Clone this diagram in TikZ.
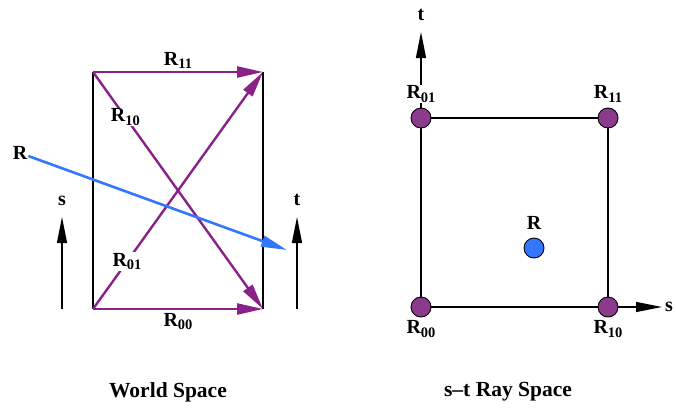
\documentclass[tikz,border=0pt]{standalone}
\usepackage{fontspec}
\setmainfont{Liberation Serif}
\usepackage{tikz}
\usetikzlibrary{positioning,arrows.meta}
\definecolor{raypurple}{RGB}{136,34,136}
\definecolor{dotpurple}{RGB}{140,58,140}
\definecolor{rayblue}{RGB}{51,119,255}
\newcommand{\lblsize}{\fontsize{20}{24}\selectfont\bfseries}
\newcommand{\rlab}[1]{R\raisebox{-3.5pt}{\fontsize{14.5}{16}\selectfont\bfseries #1}}
\tikzset{ray/.style={draw=raypurple, line width=2.4pt,
  -{Triangle[length=26pt,width=11pt]}}}
\tikzset{wall/.style={draw=black, line width=2.8pt}}
\tikzset{axis/.style={draw=black, line width=1.3pt,
  -{Triangle[length=26pt,width=10pt]}}}
\tikzset{lbl/.style={font=\lblsize, inner sep=1pt}}
\tikzset{sample/.style={circle, draw=black, line width=0.9pt, fill=dotpurple,
  minimum size=20pt, inner sep=0pt}}

\begin{document}
\begin{tikzpicture}[x=1pt,y=-1pt]
  \useasboundingbox (0,0) rectangle (676,407);
  % world space
  \coordinate (tl) at (93,72);
  \coordinate (tr) at (263,72);
  \coordinate (bl) at (93,309);
  \coordinate (br) at (263,309);
  \draw[wall] (bl) -- (tl);
  \draw[wall] (br) -- (tr);
  \draw[ray] (tl) -- node[lbl, above=1pt] (r11) {\rlab{11}} (tr);
  \draw[ray] (bl) -- node[lbl, below=2pt] (r00) {\rlab{00}} (br);
  \draw[ray] (tl) -- node[lbl, pos=0.19, fill=white] (r10) {\rlab{10}} (br);
  \draw[ray] (bl) -- node[lbl, pos=0.2, fill=white] (r01) {\rlab{01}} (tr);
  \node[lbl] (rw) at (20,153) {R};
  \coordinate (rend) at (287,250);
  \draw[draw=rayblue, line width=2.6pt, -{Triangle[length=26pt,width=11pt]}] (rw) -- (rend);
  \coordinate (sb) at (62,309);
  \coordinate (st) at (62,217);
  \draw[axis] (sb) -- (st);
  \node[lbl, above=10pt of st] (sw) {s};
  \coordinate (tb) at (297,309);
  \coordinate (tt) at (297,217);
  \draw[axis] (tb) -- (tt);
  \node[lbl, above=10pt of tt] (tw) {t};
  \node[lbl, font=\fontsize{21.5}{26}\selectfont\bfseries] (cw) at (168,392) {World Space};
  % s-t ray space
  \node[sample] (p00) at (421,307) {};
  \node[sample] (p10) at (608,307) {};
  \node[sample] (p01) at (421,118) {};
  \node[sample] (p11) at (608,118) {};
  \node[sample, fill=rayblue] (pr) at (534,248) {};
  \draw[line width=1.2pt] (p00) -- (p10) -- (p11) -- (p01) -- (p00);
  \coordinate (ta) at (421,32);
  \coordinate (sa) at (662,307);
  \draw[axis] (p10) -- (sa);
  \draw[axis] (p01) -- (ta);
  \node[lbl, above=10pt of ta] (tl2) {t};
  \node[lbl, right=2pt of sa] (sl2) {s};
  \node[lbl, above=4pt of p01, fill=white] (l01) {\rlab{01}};
  \node[lbl, above=4pt of p11] (l11) {\rlab{11}};
  \node[lbl, below=2pt of p00] (l00) {\rlab{00}};
  \node[lbl, below=2pt of p10] (l10) {\rlab{10}};
  \node[lbl, above=7pt of pr] (lr) {R};
  \node[lbl, font=\fontsize{21.5}{26}\selectfont\bfseries] (cr) at (508,392) {s--t Ray Space};
\end{tikzpicture}
\end{document}
